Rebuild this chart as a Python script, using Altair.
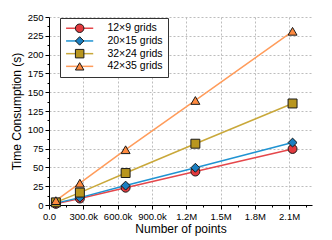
import altair as alt
import pandas as pd

series = ["12×9 grids", "20×15 grids", "32×24 grids", "42×35 grids"]
points = [60000, 270000, 670000, 1280000, 2130000]
t_12x9 = [1.5, 8.6, 23.0, 44.5, 74.5]
t_20x15 = [2.5, 9.8, 25.8, 49.5, 83.0]
t_32x24 = [3.5, 16.5, 42.5, 81.5, 135.0]
t_42x35 = [5.8, 29.0, 73.5, 139.0, 231.0]

line_colors = ["#e5474b", "#1f93d2", "#c9a83a", "#ff9c5b"]
fill_colors = ["#e23a3e", "#1b7fc1", "#b8961f", "#ff8a3f"]
edge_colors = ["#1a1a1a", "#1a1a1a", "#1a1a1a", "#1a1a1a"]
shapes = ["circle", "diamond", "square", "triangle-up"]

x_major = [0, 300000, 600000, 900000, 1200000, 1500000, 1800000, 2100000]
x_minor = [150000, 450000, 750000, 1050000, 1350000, 1650000, 1950000, 2250000]
y_major = [0, 25, 50, 75, 100, 125, 150, 175, 200, 225, 250]
y_minor = [12.5, 37.5, 62.5, 87.5, 112.5, 137.5, 162.5, 187.5, 212.5, 237.5]

rows = []
for s, vals in zip(series, [t_12x9, t_20x15, t_32x24, t_42x35]):
    for p, v in zip(points, vals):
        rows.append({"series": s, "points": p, "time": v})
df = pd.DataFrame(rows)

FONT = "Liberation Sans"
SYM = 72
xscale = alt.Scale(domain=[0, 2300000], nice=False, zero=False)
yscale = alt.Scale(domain=[0, 250], nice=False)

label_expr = ("datum.value == 0 ? '0.0' : (datum.value >= 1000000 ? "
              "format(datum.value/1000000, '.1f') + 'M' : format(datum.value/1000, '.1f') + 'k')")

axis_common = dict(grid=True, gridDash=[2, 2], gridColor="#bdbdbd", tickSize=4,
                   tickColor="black", domainColor="black", labelFontSize=9.5,
                   labelColor="black", titleFontSize=12, titleFontWeight="normal",
                   titleColor="black", labelFont=FONT, titleFont=FONT, labelPadding=2,
                   labelFlush=False, labelOverlap=False)

legend_common = dict(title=None, orient="none", legendX=11, legendY=1,
                     symbolSize=SYM, symbolOffset=9.4, labelFont=FONT,
                     labelFontSize=10.5, labelColor="black",
                     padding=5, labelOffset=22.5)

base = alt.Chart(df)

lines = base.mark_line(strokeWidth=1.5).encode(
    x=alt.X("points:Q", scale=xscale,
            axis=alt.Axis(values=x_major, labelExpr=label_expr, title="Number of points",
                          orient="bottom", titlePadding=3, **axis_common)),
    y=alt.Y("time:Q", scale=yscale,
            axis=alt.Axis(values=y_major, title="Time Consumption (s)", orient="left",
                          titlePadding=4, **axis_common)),
    stroke=alt.Stroke("series:N", sort=series,
                      scale=alt.Scale(domain=series, range=line_colors),
                      legend=alt.Legend(symbolType="M-3.2,0H3.2", symbolStrokeWidth=1.5,
                                        strokeColor="#333333", fillColor="white",
                                        rowPadding=1.7, **legend_common)),
)

pt_legend = alt.Legend(labelExpr="' '", symbolStrokeWidth=1, symbolOpacity=1,
                       rowPadding=-0.3, **legend_common)

pts = base.mark_point(filled=True, size=80, strokeWidth=1, opacity=1).encode(
    x=alt.X("points:Q", scale=xscale, axis=None),
    y=alt.Y("time:Q", scale=yscale, axis=None),
    fill=alt.Fill("series:N", sort=series,
                  scale=alt.Scale(domain=series, range=fill_colors), legend=pt_legend),
    stroke=alt.Stroke("series:N", sort=series,
                      scale=alt.Scale(domain=series, range=edge_colors), legend=pt_legend),
    shape=alt.Shape("series:N", sort=series,
                    scale=alt.Scale(domain=series, range=shapes), legend=pt_legend),
)

minor = alt.Chart(df).mark_point(opacity=0).encode(
    x=alt.X("points:Q", scale=xscale,
            axis=alt.Axis(values=x_minor, labels=False, domain=False, grid=False,
                          tickSize=2, tickColor="black", title=None, orient="bottom")),
    y=alt.Y("time:Q", scale=yscale,
            axis=alt.Axis(values=y_minor, labels=False, domain=False, grid=False,
                          tickSize=2, tickColor="black", title=None, orient="left")),
)

chart = alt.layer(lines, pts, minor).resolve_axis(
    x="independent", y="independent"
).resolve_scale(
    stroke="independent"
).resolve_legend(
    stroke="independent", fill="independent", shape="independent"
).properties(
    width=263, height=188,
    autosize=alt.AutoSizeParams(type="none"),
    padding={"left": 41, "top": 9, "right": 12, "bottom": 35},
).configure_view(stroke=None)

chart.save("out.html", embed_options={"renderer": "svg", "actions": False})
